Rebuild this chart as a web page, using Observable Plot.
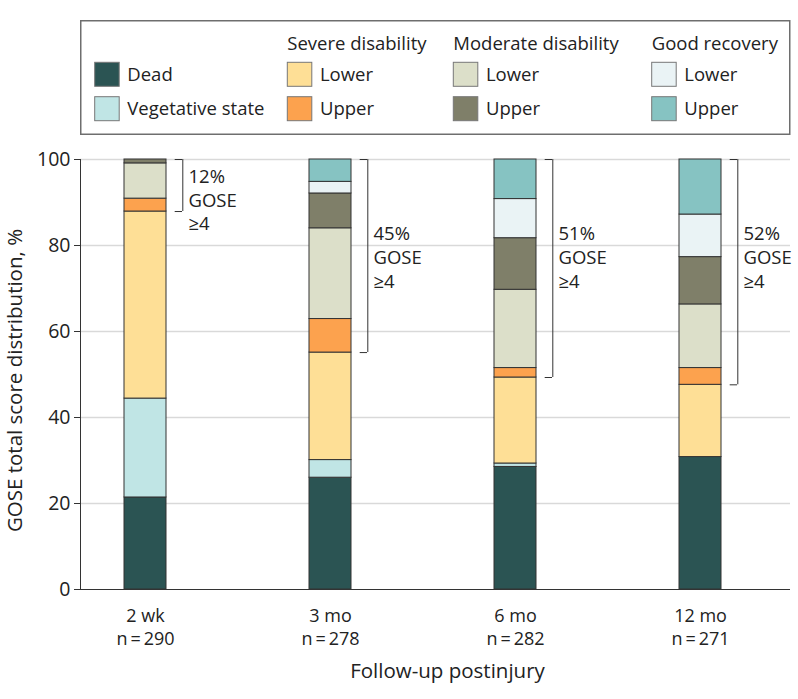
<!DOCTYPE html>
<html><head><meta charset="utf-8">
<script src="https://cdn.jsdelivr.net/npm/d3@7"></script>
<script src="https://cdn.jsdelivr.net/npm/@observablehq/plot@0.6"></script>
<style>
body{margin:0;background:#fff;font-family:"Open Sans",sans-serif;}
#legend svg,#chart svg{display:block;}
</style></head><body>
<div id="legend"></div><div id="chart"></div>
<script>
// ---- data ----
const timepoints = ["2 wk", "3 mo", "6 mo", "12 mo"];
const sampleSizes = [290, 278, 282, 271];
const outcomes = ["Dead", "Vegetative state", "Severe disability – Lower", "Severe disability – Upper",
  "Moderate disability – Lower", "Moderate disability – Upper", "Good recovery – Lower", "Good recovery – Upper"];
const outcomeColors = ["#2b5453", "#c0e5e5", "#fedf96", "#fca24e", "#dcdfc9", "#7f7f69", "#eaf3f5", "#86c3c2"];
const legendGroups = ["", "Severe disability", "Moderate disability", "Good recovery"];
const legendLabels = ["Dead", "Vegetative state", "Lower", "Upper", "Lower", "Upper", "Lower", "Upper"];
const dead          = [21.4, 26.0, 28.5, 30.8];
const vegetative    = [23.0,  4.1,  0.8,  0.0];
const severeLower   = [43.5, 25.0, 20.0, 16.8];
const severeUpper   = [ 3.0,  7.8,  2.2,  3.9];
const moderateLower = [ 8.2, 21.1, 18.2, 14.8];
const moderateUpper = [ 0.9,  8.1, 12.0, 11.0];
const goodLower     = [ 0.0,  2.7,  9.1,  9.9];
const goodUpper     = [ 0.0,  5.2,  9.2, 12.8];
const yTicks = [0, 20, 40, 60, 80, 100];
const yLabel = "GOSE total score distribution, %";
const xLabel = "Follow-up postinjury";

const series = [dead, vegetative, severeLower, severeUpper, moderateLower, moderateUpper, goodLower, goodUpper];

// ---- legend ----
const ink = "#222";
const lsvg = d3.select("#legend").append("svg").attr("width", 798).attr("height", 140)
  .style("font-family", "'Open Sans', sans-serif").style("font-size", "18.5px");
lsvg.append("rect").attr("x", 80.75).attr("y", 20.75).attr("width", 709).attr("height", 113.5)
  .attr("fill", "none").attr("stroke", "#6e6e6e").attr("stroke-width", 1.5);
const colX = [94.7, 287.3, 453.3, 651.7];
const rowY = [62.3, 96.7];
legendGroups.forEach((g, c) => {
  if (g) lsvg.append("text").attr("x", colX[c]).attr("y", 49.5).attr("fill", ink).text(g);
  [0, 1].forEach(r => {
    const k = c * 2 + r;
    lsvg.append("rect").attr("x", colX[c]).attr("y", rowY[r]).attr("width", 24.5).attr("height", 24)
      .attr("fill", outcomeColors[k]).attr("stroke", "#777").attr("stroke-width", 1);
    lsvg.append("text").attr("x", colX[c] + 32.6).attr("y", rowY[r] + 18.5).attr("fill", ink).text(legendLabels[k]);
  });
});

// ---- chart ----
const rows = [];
timepoints.forEach((t, i) => series.forEach((s, j) => rows.push({time: t, outcome: outcomes[j], value: s[i]})));
const brackets = timepoints.map((t, i) => {
  const lo = dead[i] + vegetative[i] + severeLower[i];
  return {time: t, lo, pct: Math.round(100 - lo)};
});
const bracketEnds = brackets.flatMap(b => [{time: b.time, v: b.lo}, {time: b.time, v: 100}]);

const chart = Plot.plot({
  width: 798, height: 559,
  marginTop: 19, marginBottom: 110, marginLeft: 80, marginRight: 8,
  style: {fontFamily: "'Open Sans', sans-serif", fontSize: "18px", color: ink, background: "#fff"},
  x: {domain: timepoints, range: [80, 764], paddingInner: 0.773, paddingOuter: 0.232, axis: null},
  y: {domain: [0, 100], axis: null},
  color: {domain: outcomes, range: outcomeColors},
  marks: [
    Plot.ruleY(yTicks.filter(d => d > 0), {stroke: "#d9d9d9", strokeWidth: 1.5}),
    Plot.barY(rows, {x: "time", y: "value", fill: "outcome", stroke: "#333", strokeWidth: 1}),
    Plot.axisY({ticks: yTicks, tickSize: 6, tickPadding: 4, label: null, stroke: "#333", fill: ink, fontSize: 19.5}),
    Plot.ruleY([0], {stroke: "#333", strokeWidth: 1}),
    Plot.frame({anchor: "left", stroke: "#333", strokeWidth: 1}),
    Plot.ruleX(brackets, {x: "time", y1: "lo", y2: () => 100, dx: 37.3, stroke: "#333", strokeWidth: 1}),
    Plot.tickY(bracketEnds, {x: "time", y: "v", insetLeft: 50.7, insetRight: -16, stroke: "#333", strokeWidth: 1}),
    Plot.text(brackets, {x: "time", y: d => d.lo > 77.5 ? d.lo + 2.9 : 77.5,
      text: d => `${d.pct}%\nGOSE\n≥4`, textAnchor: "start", dx: 43, lineHeight: 1.28, fontSize: 18.5, fill: ink}),
    Plot.text(timepoints, {x: d => d, frameAnchor: "bottom", text: (d, i) => `${d}\nn\u2009=\u2009${sampleSizes[i]}`,
      lineAnchor: "top", dy: 16, lineHeight: 1.28, fill: ink}),
    Plot.text([xLabel], {frameAnchor: "bottom", lineAnchor: "top", dy: 74, dx: 12, fontSize: 20.5, fill: ink}),
    Plot.text([yLabel], {frameAnchor: "left", textAnchor: "middle", rotate: -90, dx: -65.5, dy: 6, fontSize: 20.5, fill: ink})
  ]
});
document.getElementById("chart").appendChild(chart);
</script>
</body></html>
